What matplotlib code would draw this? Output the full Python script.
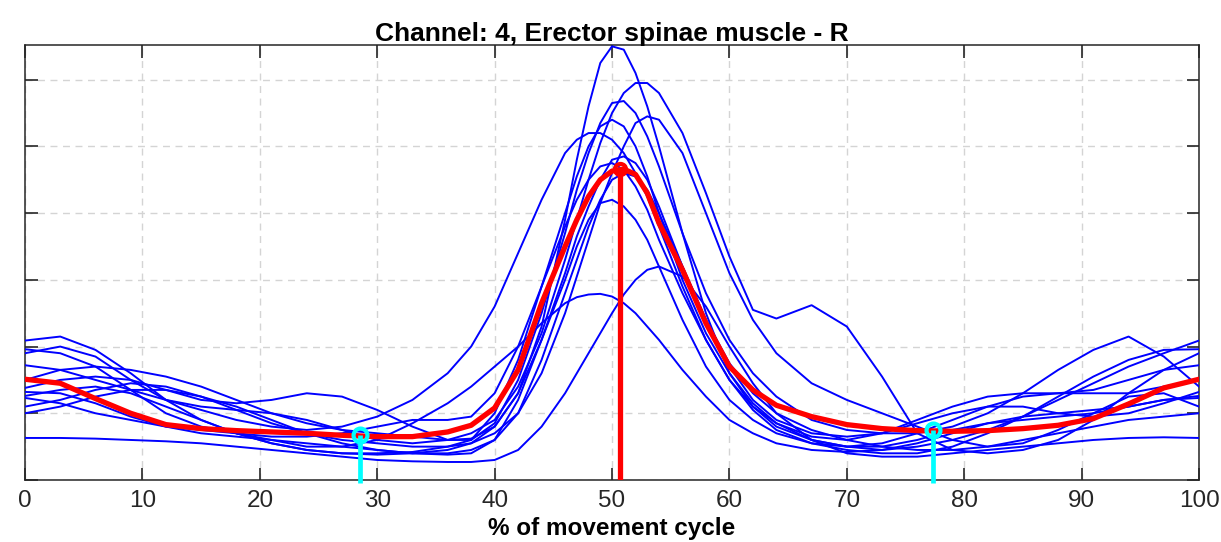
import matplotlib
matplotlib.use("Agg")
import matplotlib.pyplot as plt

plt.rcParams["font.family"] = ["Liberation Sans", "DejaVu Sans"]

# % of movement cycle (shared sample positions)
cycle = [0, 3, 6, 9, 12, 15, 18, 21, 24, 27, 30, 33, 36,
         38, 40, 42, 44,
         46, 47, 48, 49, 50, 51, 52, 53, 54,
         56, 58, 60, 62, 64,
         67, 70, 73, 76, 79, 82, 85, 88, 91, 94, 97, 100]

# individual cycles (blue)
trial_01 = [1.26, 1.35, 1.40, 1.30, 1.10, 0.90, 0.70, 0.55, 0.45, 0.40, 0.38, 0.40, 0.45,
            0.55, 0.80, 1.30, 2.30,
            3.90, 4.80, 5.60, 6.25, 6.50, 6.45, 6.10, 5.60, 5.00,
            3.70, 2.50, 1.60, 1.10, 0.80,
            0.60, 0.50, 0.50, 0.60, 0.75, 0.85, 0.90, 0.95, 1.00, 1.10, 1.20, 1.26]
trial_02 = [1.90, 2.00, 1.85, 1.50, 1.20, 1.10, 1.05, 1.00, 0.90, 0.75, 0.60, 0.55, 0.60,
            0.70, 0.90, 1.40, 2.20,
            3.30, 3.90, 4.50, 5.05, 5.50, 5.80, 5.95, 5.95, 5.80,
            5.20, 4.30, 3.35, 2.55, 2.42,
            2.62, 2.30, 1.55, 0.70, 0.45, 0.40, 0.45, 0.60, 0.90, 1.30, 1.65, 1.90]
trial_03 = [1.38, 1.50, 1.55, 1.50, 1.35, 1.20, 1.15, 1.20, 1.30, 1.25, 1.05, 0.80, 0.60,
            0.60, 0.85, 1.50, 2.50,
            3.70, 4.35, 4.90, 5.35, 5.65, 5.68, 5.50, 5.15, 4.70,
            3.70, 2.80, 2.10, 1.60, 1.25,
            0.90, 0.75, 0.70, 0.70, 0.80, 1.00, 1.30, 1.65, 1.95, 2.15, 1.85, 1.40]
trial_04 = [1.10, 1.20, 1.35, 1.45, 1.40, 1.25, 1.05, 0.85, 0.70, 0.60, 0.55, 0.50, 0.50,
            0.55, 0.70, 1.00, 1.60,
            2.50, 3.05, 3.60, 4.15, 4.60, 5.00, 5.35, 5.45, 5.40,
            4.90, 4.00, 3.10, 2.40, 1.90,
            1.45, 1.20, 1.00, 0.80, 0.60, 0.50, 0.55, 0.75, 1.00, 1.25, 1.30, 1.10]
trial_05 = [2.09, 2.15, 1.95, 1.60, 1.20, 0.90, 0.70, 0.55, 0.45, 0.40, 0.40, 0.42, 0.50,
            0.60, 1.00, 1.80, 2.90,
            4.00, 4.55, 5.00, 5.30, 5.40, 5.30, 5.00, 4.55, 4.00,
            3.00, 2.20, 1.60, 1.15, 0.85,
            0.60, 0.50, 0.45, 0.50, 0.60, 0.75, 0.95, 1.20, 1.45, 1.70, 1.90, 2.09]
trial_06 = [1.72, 1.65, 1.50, 1.35, 1.20, 1.05, 0.90, 0.80, 0.75, 0.80, 0.95, 1.20, 1.60,
            2.00, 2.60, 3.40, 4.20,
            4.90, 5.10, 5.20, 5.20, 5.10, 4.90, 4.60, 4.25, 3.80,
            2.90, 2.10, 1.50, 1.10, 0.85,
            0.65, 0.60, 0.70, 0.90, 1.10, 1.25, 1.30, 1.30, 1.35, 1.50, 1.65, 1.72]
trial_07 = [1.32, 1.30, 1.15, 0.95, 0.80, 0.70, 0.65, 0.60, 0.55, 0.50, 0.45, 0.40, 0.38,
            0.40, 0.60, 1.20, 2.10,
            3.10, 3.65, 4.10, 4.50, 4.80, 4.85, 4.75, 4.50, 4.10,
            3.20, 2.40, 1.70, 1.20, 0.90,
            0.70, 0.65, 0.70, 0.85, 1.00, 1.10, 1.10, 1.00, 0.95, 1.00, 1.15, 1.32]
trial_08 = [1.96, 1.90, 1.70, 1.35, 1.00, 0.80, 0.70, 0.65, 0.65, 0.70, 0.80, 0.90, 0.90,
            0.95, 1.30, 2.00, 2.90,
            3.80, 4.20, 4.50, 4.70, 4.75, 4.65, 4.40, 4.05, 3.60,
            2.80, 2.10, 1.50, 1.05, 0.75,
            0.55, 0.45, 0.40, 0.40, 0.50, 0.70, 0.95, 1.25, 1.55, 1.80, 1.95, 1.96]
trial_09 = [1.50, 1.65, 1.70, 1.65, 1.55, 1.40, 1.20, 1.00, 0.85, 0.75, 0.70, 0.65, 0.60,
            0.62, 0.80, 1.30, 2.10,
            3.00, 3.50, 3.90, 4.15, 4.20, 4.10, 3.90, 3.60, 3.20,
            2.40, 1.70, 1.20, 0.90, 0.70,
            0.55, 0.50, 0.55, 0.70, 0.90, 1.10, 1.25, 1.30, 1.30, 1.30, 1.40, 1.50]
trial_10 = [0.63, 0.63, 0.62, 0.60, 0.58, 0.55, 0.50, 0.45, 0.40, 0.35, 0.30, 0.28, 0.27,
            0.27, 0.30, 0.45, 0.80,
            1.30, 1.60, 1.90, 2.20, 2.50, 2.78, 3.00, 3.15, 3.20,
            3.05, 2.60, 2.00, 1.45, 1.00,
            0.60, 0.40, 0.35, 0.35, 0.40, 0.45, 0.50, 0.55, 0.60, 0.63, 0.64, 0.63]
trial_11 = [1.23, 1.15, 1.00, 0.90, 0.80, 0.75, 0.70, 0.60, 0.50, 0.50, 0.60, 0.85, 1.15,
            1.40, 1.70, 2.00, 2.35,
            2.65, 2.74, 2.78, 2.79, 2.75, 2.65, 2.50, 2.30, 2.10,
            1.65, 1.25, 0.90, 0.70, 0.55,
            0.45, 0.42, 0.45, 0.55, 0.70, 0.85, 0.95, 1.00, 1.05, 1.10, 1.20, 1.23]
trial_12 = [1.00, 1.10, 1.25, 1.35, 1.35, 1.25, 1.10, 0.90, 0.70, 0.55, 0.45, 0.40, 0.40,
            0.45, 0.60, 1.00, 1.80,
            2.80, 3.30, 3.80, 4.20, 4.50, 4.60, 4.55, 4.35, 4.00,
            3.20, 2.40, 1.75, 1.30, 1.00,
            0.75, 0.60, 0.50, 0.45, 0.45, 0.50, 0.60, 0.70, 0.80, 0.90, 0.95, 1.00]

# mean cycle (red)
mean_curve = [1.51, 1.45, 1.22, 1.00, 0.83, 0.77, 0.74, 0.72, 0.70, 0.67, 0.65, 0.65, 0.72,
              0.82, 1.08, 1.65, 2.65,
              3.50, 3.90, 4.25, 4.50, 4.63, 4.66, 4.58, 4.30, 3.85,
              3.15, 2.35, 1.70, 1.35, 1.12,
              0.95, 0.83, 0.77, 0.74, 0.73, 0.74, 0.77, 0.82, 0.92, 1.14, 1.38, 1.51]

# event markers
peak_x, peak_y = 50.7, 4.66
onset_x = [28.5, 77.3]
onset_y = [0.67, 0.75]

trials = [trial_01, trial_02, trial_03, trial_04, trial_05, trial_06,
          trial_07, trial_08, trial_09, trial_10, trial_11, trial_12]

fig = plt.figure(figsize=(12.21, 5.42), dpi=100)
ax = fig.add_axes([0.0205, 0.1144, 0.9615, 0.8026])

for tr in trials:
    ax.plot(cycle, tr, color="#0000ff", lw=1.4, zorder=3)

ax.plot(cycle, mean_curve, color="#ff0000", lw=3.8, zorder=4)

# peak of the mean
ax.plot([peak_x, peak_x], [0, peak_y], color="#ff0000", lw=3.8, zorder=5, solid_capstyle="butt")
ax.plot(peak_x, peak_y, "o", ms=8, mfc="none", mec="#ff0000", mew=3, zorder=6)

# onsets / offsets
for xo, yo in zip(onset_x, onset_y):
    ax.plot([xo, xo], [-0.05, yo], color="#00ffff", lw=3.4, zorder=5,
            solid_capstyle="butt", clip_on=False)
    ax.plot(xo, yo, "o", ms=10, mfc="none", mec="#00ffff", mew=3, zorder=6)

ax.set_xlim(0, 100)
ax.set_ylim(0, 6.52)
ax.set_xticks(range(0, 101, 10))
ax.set_yticks(range(0, 7))
ax.set_yticklabels([])
ax.tick_params(axis="both", direction="in", length=9, width=1.2, color="#262626",
               top=True, right=True, labelsize=17.5, labelcolor="#262626", pad=7)
for sp in ax.spines.values():
    sp.set_color("#262626")
    sp.set_linewidth(1.1)

ax.grid(True, color="#d4d4d4", linestyle=(0, (5, 4)), linewidth=1.0)
ax.set_axisbelow(True)

ax.set_title("Channel: 4, Erector spinae muscle - R", fontsize=19,
             fontweight="bold", pad=3)
ax.set_xlabel("% of movement cycle", fontsize=17.5, fontweight="bold", labelpad=4)

fig.savefig("out.png", dpi=100)
